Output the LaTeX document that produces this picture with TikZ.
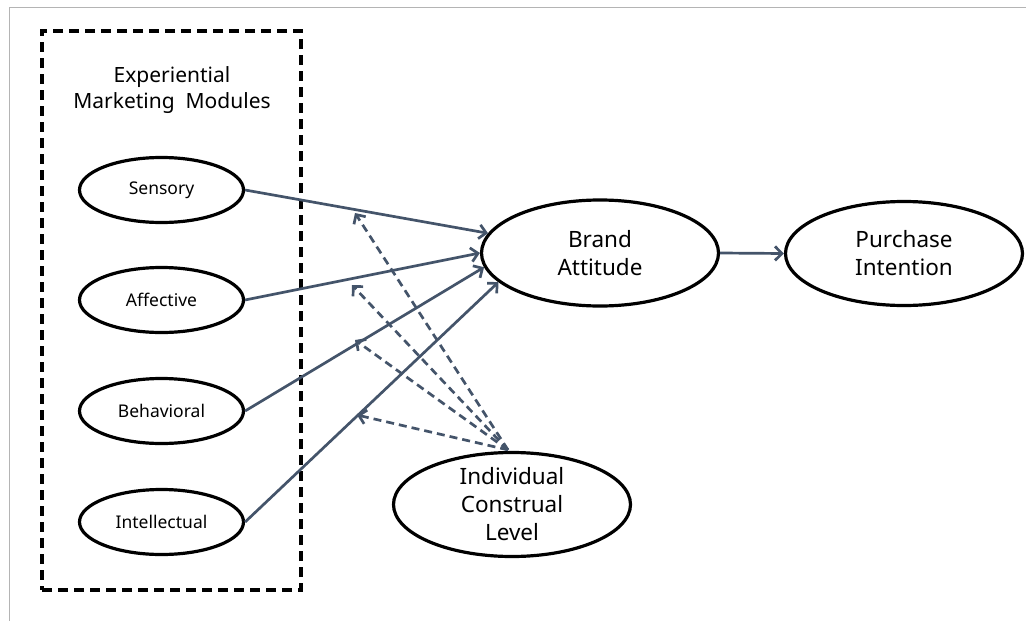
\documentclass[tikz,border=0pt]{standalone}
\usepackage{fontspec}
\setmainfont{Noto Sans}
\usetikzlibrary{arrows.meta,shapes.geometric,calc}
\definecolor{linkcol}{HTML}{44546A}
\definecolor{framecol}{HTML}{B4B4B4}
\begin{document}
\begin{tikzpicture}[x=1pt,y=-1pt,
  oval/.style={ellipse, draw=black, line width=3.2pt, inner sep=0pt, align=center},
  module/.style={oval, minimum width=164pt, minimum height=65pt,
    font=\fontsize{17.5}{20}\selectfont},
  bigoval/.style={oval, minimum width=237pt, minimum height=104pt,
    font=\fontsize{22.5}{28}\selectfont},
  link/.style={draw=linkcol, line width=2.7pt,
    -{Straight Barb[length=7pt,width=14pt]}},
  moderate/.style={link, dash pattern=on 8pt off 5pt}]
\useasboundingbox (0,0) rectangle (1026,621);

% outer frame
\draw[framecol, line width=1.2pt] (9.5,621) -- (9.5,7.5) -- (1026,7.5);

% module group
\node[draw=black, line width=3.4pt, dash pattern=on 10pt off 6pt,
      minimum width=259pt, minimum height=559pt, inner sep=0pt]
      (modbox) at (171.5,310.5) {};
\node[font=\fontsize{21}{26.5}\selectfont, align=center] (title) at (172,90)
      {Experiential\\Marketing\ \ Modules};

\node[module] (sen) at (161.5,190) {Sensory};
\node[module] (aff) at (161.5,300) {Affective};
\node[module] (beh) at (161.5,411) {Behavioral};
\node[module] (int) at (161.5,522) {Intellectual};

% outcome constructs
\node[bigoval, minimum height=106pt] (ba) at (600,253) {Brand\\Attitude};
\node[bigoval, minimum height=104pt] (pi) at (904,253.5) {Purchase\\Intention};
\node[bigoval] (icl) at (512,504.5) {Individual\\Construal\\Level};

% main effects
\draw[link] (sen.east) -- (ba.170);
\draw[link] (aff.east) -- (ba.180);
\draw[link] (beh.east) -- (ba.187);
\draw[link] (int.east) -- (ba.196);
\draw[link] (ba.east) -- (pi.west);

% moderating effects
\coordinate (src) at ($(icl.north)+(-4,-1)$);
\coordinate (m1) at (355,213);
\coordinate (m2) at (352,285);
\coordinate (m3) at (355,340);
\coordinate (m4) at (357,415);
\foreach \m in {m1,m2,m3,m4}
  \draw[moderate] (src) -- (\m);
\end{tikzpicture}
\end{document}
